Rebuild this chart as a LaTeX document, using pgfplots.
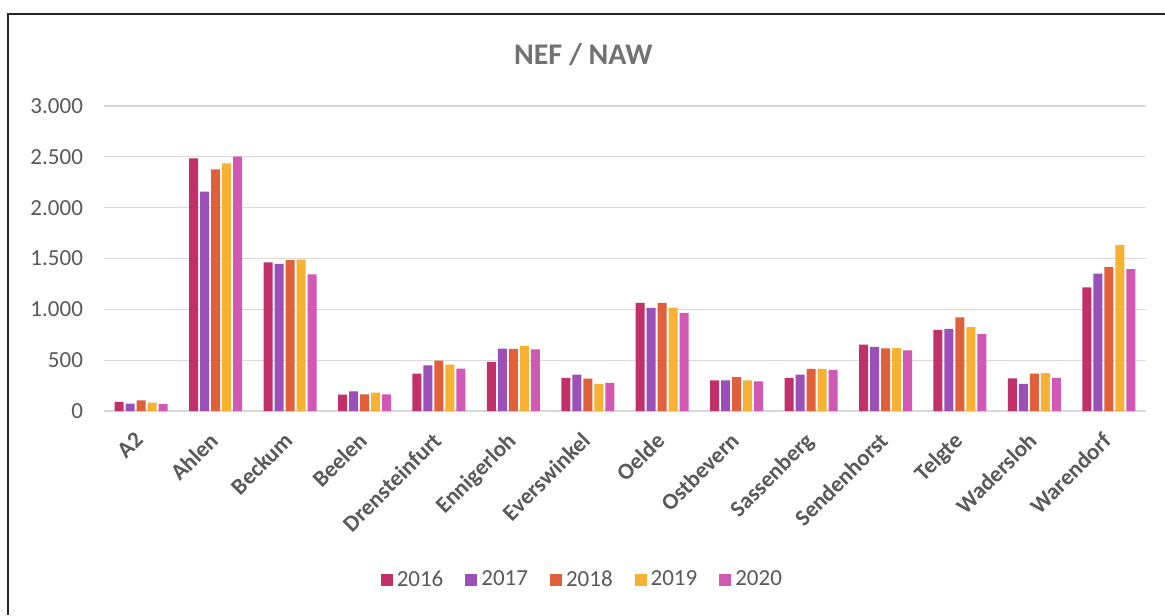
\documentclass[border=0pt]{standalone}
\usepackage{pgfplots}
\pgfplotsset{compat=1.18}
\usepackage{fontspec}
\setmainfont{Carlito}
\definecolor{cA}{HTML}{C2306A}
\definecolor{cB}{HTML}{9B50B8}
\definecolor{cC}{HTML}{E0603C}
\definecolor{cD}{HTML}{F8B233}
\definecolor{cE}{HTML}{D258B6}
\definecolor{txt}{HTML}{595959}
\definecolor{grd}{HTML}{D9D9D9}
\begin{document}
\begin{tikzpicture}
\useasboundingbox (0,0) rectangle (582.5pt,307.5pt);
\fill[white] (0,0) rectangle (582.5pt,307.5pt);
\begin{axis}[
  at={(52pt,102pt)}, anchor=south west,
  scale only axis, width=521pt, height=152.5pt,
  ybar=1pt, bar width=4.5pt,
  xmin=-0.5, xmax=13.5, ymin=0, ymax=3000,
  ytick={0,500,1000,1500,2000,2500,3000},
  xtick=data,
  xticklabels={A2,Ahlen,Beckum,Beelen,Drensteinfurt,Ennigerloh,Everswinkel,Oelde,Ostbevern,Sassenberg,Sendenhorst,Telgte,Wadersloh,Warendorf},
  x tick label style={xshift=-3.8pt, yshift=-5pt, rotate=45, anchor=north east, font=\fontsize{11.5}{13}\selectfont\bfseries, text=txt},
  y tick label style={font=\fontsize{11.5}{13}\selectfont, text=txt, xshift=-7pt},
  /pgf/number format/.cd, 1000 sep={.}, assume math mode=true, /pgfplots/.cd,
  ymajorgrids, grid style={grd, line width=0.6pt},
  major tick length=0pt,
  axis x line*=bottom,
  axis y line*=left,
  x axis line style={draw=grd, line width=0.6pt},
  y axis line style={draw=none},
  title={NEF / NAW},
  every axis title shift=0pt,
  title style={at={(0.46,1.167)}, anchor=center, font=\fontsize{15}{17}\selectfont\bfseries, text=txt!85},
  legend style={at={(0.46,-0.554)}, anchor=center, draw=none, legend columns=-1,
    font=\fontsize{11.5}{13}\selectfont, text=txt,
    /tikz/every even column/.append style={column sep=9pt}},
  legend image code/.code={\fill[#1] (0pt,-3pt) rectangle (6pt,3pt);},
  legend cell align=left,
]
\addplot[fill=cA, draw=none] coordinates {(0,89) (1,2485) (2,1461) (3,161) (4,368) (5,483) (6,325) (7,1064) (8,302) (9,325) (10,653) (11,799) (12,322) (13,1217)};
\addplot[fill=cB, draw=none] coordinates {(0,72) (1,2157) (2,1448) (3,194) (4,450) (5,614) (6,358) (7,1015) (8,302) (9,358) (10,630) (11,809) (12,266) (13,1352)};
\addplot[fill=cC, draw=none] coordinates {(0,105) (1,2377) (2,1484) (3,164) (4,496) (5,611) (6,318) (7,1064) (8,332) (9,414) (10,617) (11,921) (12,368) (13,1414)};
\addplot[fill=cD, draw=none] coordinates {(0,82) (1,2436) (2,1490) (3,181) (4,456) (5,640) (6,266) (7,1018) (8,302) (9,414) (10,618) (11,826) (12,372) (13,1632)};
\addplot[fill=cE, draw=none] coordinates {(0,69) (1,2502) (2,1343) (3,164) (4,417) (5,607) (6,276) (7,965) (8,292) (9,404) (10,596) (11,757) (12,326) (13,1395)};
\legend{2016,2017,2018,2019,2020}
\end{axis}
\draw[line width=1pt, black!85] (4pt,0) -- (4pt,300.5pt) -- (582.5pt,300.5pt);
\end{tikzpicture}
\end{document}
